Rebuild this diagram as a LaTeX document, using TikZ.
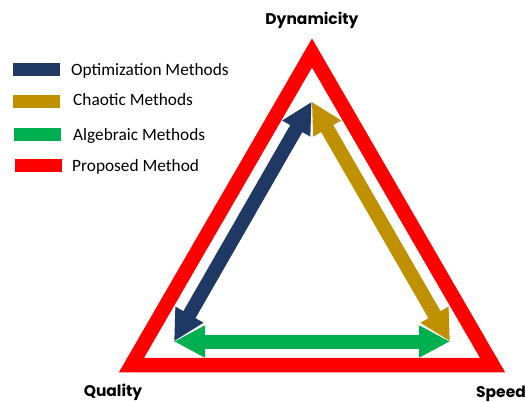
\documentclass[tikz,border=0pt]{standalone}
\usepackage{fontspec}
\setmainfont{Carlito}
\newfontfamily\labelfont{Poppins}
\usetikzlibrary{arrows.meta,calc}
\definecolor{mynavy}{RGB}{31,56,100}
\definecolor{mygold}{RGB}{191,144,0}
\definecolor{mygreen}{RGB}{0,176,80}
\definecolor{myred}{RGB}{255,0,0}
\tikzstyle{twoway} = [line width=14pt,{Triangle[length=31pt,width=30pt]}-{Triangle[length=31pt,width=30pt]}]
\tikzstyle{legbar} = [minimum width=47pt,minimum height=13pt,inner sep=0pt]
\tikzstyle{legtext} = [anchor=base west,inner sep=0pt,font=\fontsize{17.3}{17.3}\selectfont]
\tikzstyle{corner} = [anchor=base,inner sep=0pt,font=\labelfont\bfseries\fontsize{15.5}{15.5}\selectfont]

\begin{document}
\begin{tikzpicture}[x=1pt,y=-1pt]
    \useasboundingbox (0,0) rectangle (526,401);
    % corners of the frame and of the arrows
    \coordinate (top) at (312,53);
    \coordinate (left) at (131.5,365);
    \coordinate (right) at (492.5,365);
    \coordinate (A) at (311.7,101.7);
    \coordinate (B) at (174,341.5);
    \coordinate (C) at (450,341.5);
    \coordinate (G) at (311.9,261.6);
    % frame
    \draw [myred, line width=14.5pt, line join=miter] (top) -- (left) -- (right) -- cycle;
    % arrows, each one cut off at the corners
    \begin{scope}
        \clip (G) -- ($(G)!3!(A)$) -- ($(G)!3!(B)$) -- cycle;
        \draw [twoway, mynavy] (A) -- (B);
    \end{scope}
    \begin{scope}
        \clip (G) -- ($(G)!3!(A)$) -- ($(G)!3!(C)$) -- cycle;
        \draw [twoway, mygold] (A) -- (C);
    \end{scope}
    \begin{scope}
        \clip (G) -- ($(G)!3!(B)$) -- ($(G)!3!(C)$) -- cycle;
        \draw [twoway, mygreen] (B) -- (C);
    \end{scope}
    % corner labels
    \node [corner] (dyn) at (312,24.5) {Dynamicity};
    \node [corner] (qual) at (113,396.5) {Quality};
    \node [corner] (speed) at (501,397) {Speed};
    % legend
    \node [legbar, fill=mynavy] (navybar) at (36.5,69.5) {};
    \node [legtext] (navytext) at (71,75.5) {Optimization Methods};
    \node [legbar, fill=mygold] (goldbar) at (36.5,101.3) {};
    \node [legtext] (goldtext) at (73,105.5) {Chaotic Methods};
    \node [legbar, fill=mygreen] (greenbar) at (37.5,134.2) {};
    \node [legtext] (greentext) at (73,140) {Algebraic Methods};
    \node [legbar, fill=myred] (redbar) at (38,165.7) {};
    \node [legtext] (redtext) at (72,171.5) {Proposed Method};
\end{tikzpicture}
\end{document}
